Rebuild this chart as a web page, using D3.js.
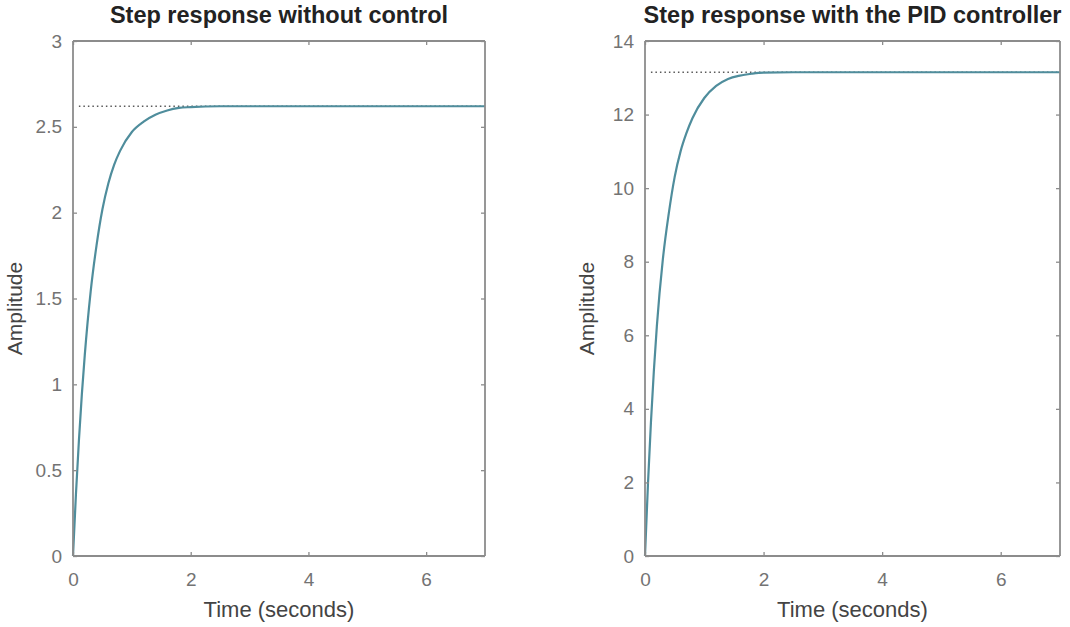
<!DOCTYPE html>
<html><head><meta charset="utf-8">
<script src="https://cdn.jsdelivr.net/npm/d3@7"></script>
<style>body{margin:0;background:#fff}svg{display:block}</style>
</head><body>
<script>
// Data
const time = [0, 0.05, 0.1, 0.15, 0.2, 0.3, 0.4, 0.5, 0.6, 0.7, 0.8, 1.0, 1.2, 1.4, 1.6, 1.8, 2.0, 2.5, 3, 4, 5, 6, 7];
const ampNoControl = [0, 0.36, 0.67, 0.94, 1.17, 1.54, 1.81, 2.02, 2.17, 2.28, 2.36, 2.47, 2.53, 2.57, 2.595, 2.61, 2.615, 2.62, 2.62, 2.62, 2.62, 2.62, 2.62];
const ampPID = [0, 1.96, 3.63, 5.05, 6.25, 8.05, 9.3, 10.3, 11.0, 11.5, 11.9, 12.45, 12.78, 12.97, 13.06, 13.11, 13.14, 13.15, 13.15, 13.15, 13.15, 13.15, 13.15];
const steadyNoControl = 2.62;
const steadyPID = 13.15;
const xTicks = [0, 2, 4, 6];
const yTicksNoControl = [0, 0.5, 1, 1.5, 2, 2.5, 3];
const yTicksPID = [0, 2, 4, 6, 8, 10, 12, 14];
const titles = ["Step response without control", "Step response with the PID controller"];

const W = 1070, H = 627;
const svg = d3.select("body").append("svg").attr("width", W).attr("height", H);
const font = "'Liberation Sans', Arial, sans-serif";

const panels = [
  {x0: 73, x1: 485, y0: 41, y1: 556, ymax: 3, yt: yTicksNoControl, data: ampNoControl, ss: steadyNoControl, title: titles[0]},
  {x0: 645, x1: 1060, y0: 41, y1: 556, ymax: 14, yt: yTicksPID, data: ampPID, ss: steadyPID, title: titles[1]}
];

panels.forEach(p => {
  const x = d3.scaleLinear().domain([0, 7]).range([p.x0, p.x1]);
  const y = d3.scaleLinear().domain([0, p.ymax]).range([p.y1, p.y0]);
  const g = svg.append("g");
  const axColor = "#8c8c8c", txtColor = "#737373";
  const fmt = d3.format("");

  // steady-state dotted line
  g.append("line").attr("x1", x(0.1)).attr("x2", x(7)).attr("y1", y(p.ss)).attr("y2", y(p.ss))
    .attr("stroke", "#5a5a5a").attr("stroke-width", 1.4).attr("stroke-dasharray", "1.5,3");

  // curve
  const line = d3.line().x((d, i) => x(time[i])).y(d => y(d)).curve(d3.curveMonotoneX);
  g.append("path").datum(p.data).attr("d", line).attr("fill", "none")
    .attr("stroke", "#4f8d9c").attr("stroke-width", 2.2);

  // axes (ticks inward)
  const bottom = d3.axisBottom(x).tickValues(xTicks).tickSize(-4).tickPadding(17).tickFormat(fmt);
  const top = d3.axisTop(x).tickValues(xTicks).tickSize(-4).tickFormat("");
  const left = d3.axisLeft(y).tickValues(p.yt).tickSize(-4).tickPadding(11).tickFormat(fmt);
  const right = d3.axisRight(y).tickValues(p.yt).tickSize(-4).tickFormat("");
  const styleAxis = a => {
    a.selectAll("path").attr("stroke", axColor).attr("stroke-width", 1.8);
    a.selectAll("line").attr("stroke", axColor).attr("stroke-width", 1.3);
    a.selectAll("text").attr("fill", txtColor).style("font-family", font).style("font-size", "19px");
  };
  g.append("g").attr("transform", `translate(0,${p.y1})`).call(bottom).call(styleAxis).call(a => a.select(".domain").attr("d", `M${p.x0},0H${p.x1}`));
  g.append("g").attr("transform", `translate(0,${p.y0})`).call(top).call(styleAxis).call(a => a.select(".domain").attr("d", `M${p.x0},0H${p.x1}`));
  g.append("g").attr("transform", `translate(${p.x0},0)`).call(left).call(styleAxis).call(a => a.select(".domain").attr("d", `M0,${p.y0}V${p.y1}`));
  g.append("g").attr("transform", `translate(${p.x1},0)`).call(right).call(styleAxis).call(a => a.select(".domain").attr("d", `M0,${p.y0}V${p.y1}`));

  // title
  g.append("text").attr("x", (p.x0 + p.x1) / 2).attr("y", 23).attr("text-anchor", "middle")
    .style("font-family", font).style("font-size", "23.5px").style("font-weight", "bold").attr("fill", "#222")
    .text(p.title);
  // x label
  g.append("text").attr("x", (p.x0 + p.x1) / 2).attr("y", 617).attr("text-anchor", "middle")
    .style("font-family", font).style("font-size", "22px").attr("fill", "#444").text("Time (seconds)");
  // y label
  g.append("text").attr("transform", `translate(${p.x0 - 51},${(p.y0 + p.y1) / 2 + 10}) rotate(-90)`)
    .attr("text-anchor", "middle").style("font-family", font).style("font-size", "21px").attr("fill", "#444").text("Amplitude");
});
</script>
</body></html>
